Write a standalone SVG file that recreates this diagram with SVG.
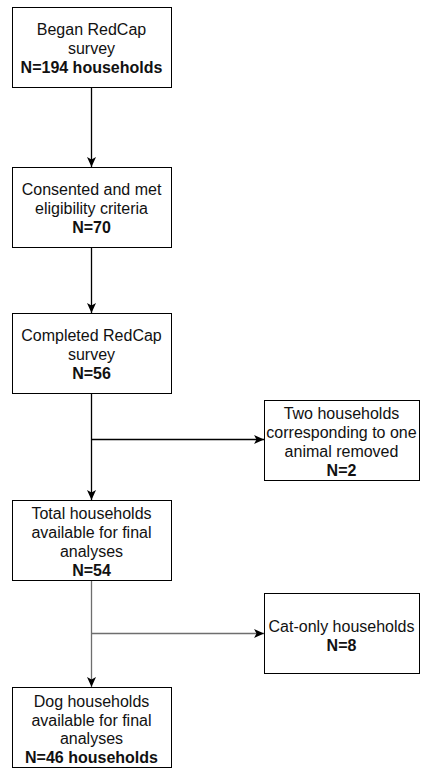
<svg xmlns="http://www.w3.org/2000/svg" width="421" height="768" viewBox="0 0 421 768">
<style>
.box{fill:#fff;stroke:#000;stroke-width:1}
.t{font-family:"Liberation Sans",Arial,Helvetica,sans-serif;font-size:16px;fill:#111;text-anchor:middle}
.b{font-weight:bold}
.c{fill:none;stroke:#000;stroke-width:1.3}
.g{stroke:#6e6e6e}
</style>
<defs>
<marker id="ah" markerWidth="10" markerHeight="10" viewBox="0 0 10 10" refX="10" refY="5" orient="auto" markerUnits="userSpaceOnUse">
<path d="M0,0.5 L10,5 L0,9.5 L2.5,5 z" fill="#000"/>
</marker>
</defs>
<g id="connectors">
<path class="c" d="M91.5,87.5 V167" marker-end="url(#ah)"/>
<path class="c" d="M91.5,247.5 V313" marker-end="url(#ah)"/>
<path class="c" d="M91.5,393.5 V500" marker-end="url(#ah)"/>
<path class="c" d="M91.5,439.5 H264" marker-end="url(#ah)"/>
<path class="c g" d="M91.5,580.5 V687" marker-end="url(#ah)"/>
<path class="c g" d="M91.5,633.5 H264" marker-end="url(#ah)"/>
</g>
<g id="n1">
<rect class="box" x="12.5" y="7.5" width="159" height="80"/>
<text class="t" x="91.5" y="34.5">Began RedCap</text>
<text class="t" x="91.5" y="53.5">survey</text>
<text class="t b" x="91.5" y="72.5">N=194 households</text>
</g>
<g id="n2">
<rect class="box" x="12.5" y="167.5" width="159" height="80"/>
<text class="t" x="91.5" y="194.5">Consented and met</text>
<text class="t" x="91.5" y="213.5">eligibility criteria</text>
<text class="t b" x="91.5" y="232.5">N=70</text>
</g>
<g id="n3">
<rect class="box" x="12.5" y="313.5" width="159" height="80"/>
<text class="t" x="91.5" y="340.5">Completed RedCap</text>
<text class="t" x="91.5" y="359.5">survey</text>
<text class="t b" x="91.5" y="378.5">N=56</text>
</g>
<g id="n4">
<rect class="box" x="264.5" y="400.5" width="155" height="80"/>
<text class="t" x="341.5" y="418.5">Two households</text>
<text class="t" x="341.5" y="437.5">corresponding to one</text>
<text class="t" x="341.5" y="456.5">animal removed</text>
<text class="t b" x="341.5" y="475.5">N=2</text>
</g>
<g id="n5">
<rect class="box" x="12.5" y="500.5" width="159" height="80"/>
<text class="t" x="91.5" y="518.5">Total households</text>
<text class="t" x="91.5" y="537.5">available for final</text>
<text class="t" x="91.5" y="556.5">analyses</text>
<text class="t b" x="91.5" y="575.5">N=54</text>
</g>
<g id="n6">
<rect class="box" x="264.5" y="593.5" width="155" height="80"/>
<text class="t" x="341.5" y="631.5">Cat-only households</text>
<text class="t b" x="341.5" y="650.5">N=8</text>
</g>
<g id="n7">
<rect class="box" x="12.5" y="687.5" width="159" height="80"/>
<text class="t" x="91.5" y="706.5">Dog households</text>
<text class="t" x="91.5" y="725.5">available for final</text>
<text class="t" x="91.5" y="744">analyses</text>
<text class="t b" x="91.5" y="762.5">N=46 households</text>
</g>
</svg>
